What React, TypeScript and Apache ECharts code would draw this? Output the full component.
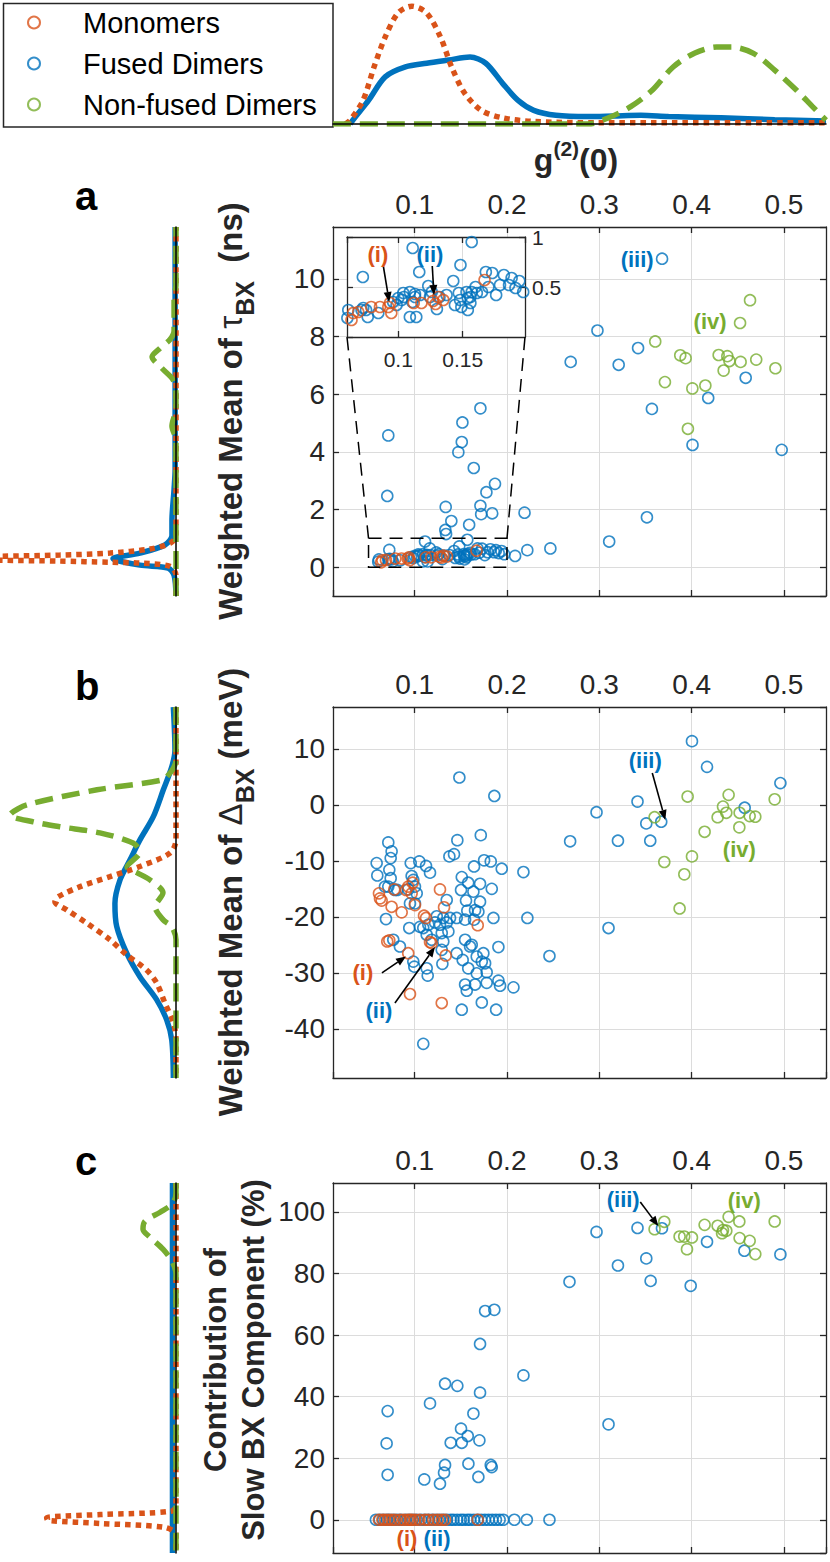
import React, { useEffect, useRef } from 'react';
import * as echarts from 'echarts';

const ORANGE = '#D95319';
const BLUE = '#0072BD';
const GREEN = '#77AC30';
const INK = '#262626';
const GRIDLINE = '#dcdcdc';
const FONT = '"Liberation Sans", Arial, Helvetica, sans-serif';

const seriesNames = ['Monomers', 'Fused Dimers', 'Non-fused Dimers'];

// axis extents
const gExtent = [0.0115, 0.5456];
const tauExtent = [-1, 11.8];
const deltaExtent = [-48.8, 17.5];
const slowExtent = [-10.8, 109.4];
const insetGExtent = [0.0602, 0.1984];
const insetTauExtent = [0, 1];
const densityExtent = [0, 100];
const zoomBoxG = [0.05, 0.2];
const zoomBoxTau = [0, 1];

// ---------- panel a : weighted mean of tau_BX (ns) ----------
const fusedTau = [
  [0.0714, 4.57], [0.0703, 2.47], [0.0725, 0.6], [0.1517, 5.02], [0.1712, 5.51], [0.151, 4.34], [0.1473, 3.99],
  [0.164, 3.44], [0.187, 2.89], [0.1777, 2.6], [0.1712, 2.13], [0.172, 1.84], [0.184, 1.87], [0.1336, 2.09],
  [0.1397, 1.6], [0.159, 1.47], [0.1332, 1.29], [0.134, 1.15], [0.219, 1.89], [0.1112, 0.89], [0.157, 0.95],
  [0.1163, 0.65], [0.1483, 0.72], [0.2088, 0.39], [0.222, 0.59], [0.247, 0.65],
  [0.368, 10.7], [0.298, 8.21], [0.269, 7.12], [0.321, 7.02], [0.342, 7.6], [0.357, 5.49], [0.418, 5.87],
  [0.4586, 6.57], [0.401, 4.24], [0.4976, 4.07], [0.3516, 1.73], [0.3107, 0.89],
  [0.1427, 0.56], [0.1233, 0.51], [0.168, 0.65], [0.173, 0.64], [0.182, 0.62], [0.188, 0.59], [0.194, 0.56],
  [0.191, 0.49], [0.179, 0.52], [0.186, 0.52], [0.176, 0.42], [0.17, 0.5], [0.165, 0.45], [0.16, 0.5],
  [0.161, 0.44], [0.157, 0.45], [0.156, 0.4], [0.153, 0.45], [0.154, 0.39], [0.147, 0.44], [0.148, 0.37],
  [0.156, 0.34], [0.154, 0.27], [0.149, 0.3], [0.144, 0.32], [0.1375, 0.42], [0.132, 0.4], [0.1246, 0.4],
  [0.13, 0.28], [0.126, 0.45], [0.117, 0.42], [0.113, 0.4], [0.111, 0.35], [0.114, 0.2], [0.109, 0.2],
  [0.1044, 0.4], [0.1026, 0.37], [0.1, 0.39], [0.096, 0.35], [0.0987, 0.32], [0.0845, 0.24], [0.075, 0.27],
  [0.0763, 0.2], [0.0715, 0.27], [0.0728, 0.29], [0.0612, 0.27], [0.0605, 0.19], [0.109, 0.45], [0.113, 0.43],
  [0.1039, 0.44], [0.197, 0.45],
];
const monoTau = [
  [0.0637, 0.17], [0.065, 0.24], [0.0689, 0.25], [0.079, 0.3], [0.0858, 0.3], [0.0923, 0.3], [0.0936, 0.34],
  [0.0946, 0.24], [0.112, 0.34], [0.118, 0.34], [0.127, 0.36], [0.131, 0.4], [0.135, 0.37], [0.129, 0.33],
  [0.167, 0.57],
];
const nonTau = [
  [0.4633, 9.26], [0.4525, 8.47], [0.3606, 7.83], [0.3877, 7.35], [0.3935, 7.25], [0.4293, 7.36], [0.4387, 7.32],
  [0.441, 7.15], [0.4531, 7.12], [0.47, 7.2], [0.4908, 6.9], [0.4347, 6.82], [0.3711, 6.42], [0.4008, 6.2],
  [0.4149, 6.3], [0.396, 4.8],
];

// ---------- panel b : weighted mean of Delta_BX (meV) ----------
const fusedDelta = [
  [0.1484, 4.9], [0.1863, 1.6], [0.1716, -5.4], [0.1462, -6.3], [0.0714, -6.7], [0.075, -8.3], [0.074, -9.5],
  [0.0588, -10.4], [0.0595, -12.6], [0.0725, -11.6], [0.074, -13.1], [0.0714, -14.6], [0.0786, -15.2],
  [0.0957, -10.4], [0.105, -10.1], [0.1123, -10.9], [0.1166, -12.1], [0.0967, -12.7], [0.0985, -13.4],
  [0.1003, -14.6], [0.1022, -15.8], [0.1003, -17.6], [0.1376, -9.2], [0.1426, -8.8], [0.1643, -11.0],
  [0.1752, -9.9], [0.1824, -10.1], [0.1943, -11.4], [0.2178, -12.0], [0.2221, -20.2], [0.246, -27.0],
  [0.151, -12.9], [0.158, -13.9], [0.1708, -14.1], [0.1502, -15.2], [0.1636, -15.5], [0.1835, -15.0],
  [0.1708, -17.3], [0.1556, -17.1], [0.157, -18.9], [0.169, -19.1], [0.1853, -20.2], [0.1546, -20.5],
  [0.1455, -20.2], [0.1383, -20.2], [0.131, -20.2], [0.1239, -19.9], [0.122, -21.0], [0.1274, -21.4],
  [0.1347, -21.0], [0.1148, -21.4], [0.1093, -22.0], [0.1057, -21.8], [0.0941, -22.0], [0.0689, -20.4],
  [0.093, -15.1], [0.0949, -17.6], [0.0811, -15.2], [0.0678, -14.6], [0.0768, -24.1], [0.084, -25.3],
  [0.1293, -22.9], [0.1365, -22.6], [0.131, -24.4], [0.1293, -25.9], [0.13, -28.4], [0.113, -29.2],
  [0.1141, -30.5], [0.0996, -28.9], [0.0985, -28.0], [0.1093, -42.7], [0.151, -36.6], [0.1727, -35.3],
  [0.1882, -36.6], [0.207, -32.6], [0.1925, -32.3], [0.1907, -31.4], [0.178, -31.8], [0.1654, -32.1],
  [0.1546, -32.1], [0.1564, -33.2], [0.1672, -30.1], [0.178, -29.9], [0.158, -29.2], [0.1727, -28.0],
  [0.1763, -28.3], [0.1672, -27.1], [0.1744, -26.5], [0.16, -25.3], [0.1546, -24.1], [0.1618, -25.0],
  [0.1455, -26.5], [0.152, -27.7], [0.1907, -25.4], [0.1643, -20.5], [0.1654, -18.8], [0.1347, -17.0],
  [0.113, -23.2], [0.1184, -24.1],
  [0.4004, 11.4], [0.4167, 6.8], [0.4962, 3.9], [0.3414, 0.6], [0.4575, -0.5], [0.297, -1.3], [0.3509, -3.3],
  [0.3671, -3.0], [0.2684, -6.5], [0.3202, -6.4], [0.3552, -6.4], [0.31, -22.0],
];
const monoDelta = [
  [0.0613, -15.8], [0.0624, -16.7], [0.0642, -17.1], [0.0779, -15.1], [0.075, -18.2], [0.0859, -19.2],
  [0.0906, -15.2], [0.093, -14.6], [0.0978, -13.9], [0.0967, -15.8], [0.1003, -17.9], [0.1101, -19.8],
  [0.1123, -20.2], [0.1274, -15.1], [0.1318, -18.3], [0.1336, -26.9], [0.1166, -24.5], [0.1184, -24.7],
  [0.1293, -35.4], [0.0949, -33.8], [0.093, -26.5], [0.0703, -24.4], [0.0725, -24.2], [0.1683, -21.5],
];
const nonDelta = [
  [0.3957, 1.5], [0.4401, 1.8], [0.434, -0.3], [0.4376, -1.4], [0.4282, -2.2], [0.452, -1.4], [0.4629, -2.0],
  [0.469, -2.1], [0.49, 1.0], [0.4517, -4.0], [0.3599, -2.2], [0.4141, -4.8], [0.4004, -9.2], [0.3704, -10.2],
  [0.3921, -12.4], [0.387, -18.5],
];

// ---------- panel c : contribution of slow BX component (%) ----------
const fusedSlow = [
  [0.0707, 35.3], [0.0696, 24.8], [0.0707, 14.6], [0.1166, 37.8], [0.1329, 44.2], [0.1462, 43.5], [0.1708, 57.1],
  [0.1763, 67.8], [0.1863, 68.2], [0.2178, 46.9], [0.1708, 41.3], [0.1636, 34.5], [0.1502, 29.6], [0.1575, 27.2],
  [0.151, 25.0], [0.139, 25.0], [0.1701, 25.8], [0.1329, 17.8], [0.1318, 15.3], [0.1582, 18.2], [0.1824, 17.8],
  [0.1835, 17.1], [0.1104, 13.1], [0.1274, 11.7], [0.169, 13.9], [0.2677, 77.3],
  [0.297, 93.5], [0.3414, 94.8], [0.3679, 94.7], [0.3509, 84.9], [0.3202, 82.6], [0.4167, 90.3], [0.4572, 87.4],
  [0.4962, 86.2], [0.3556, 77.6], [0.399, 76.0], [0.31, 31.0],
  [0.058, 0], [0.062, 0], [0.066, 0], [0.07, 0], [0.073, 0], [0.077, 0], [0.081, 0], [0.085, 0], [0.09, 0],
  [0.094, 0], [0.098, 0], [0.102, 0], [0.107, 0], [0.111, 0], [0.115, 0], [0.119, 0], [0.123, 0], [0.127, 0],
  [0.131, 0], [0.135, 0], [0.139, 0], [0.142, 0], [0.146, 0], [0.15, 0], [0.153, 0], [0.157, 0], [0.16, 0],
  [0.164, 0], [0.168, 0], [0.172, 0], [0.176, 0], [0.18, 0], [0.184, 0], [0.188, 0], [0.192, 0], [0.196, 0],
  [0.208, 0], [0.2215, 0], [0.246, 0],
];
const monoSlow = [
  [0.0613, 0], [0.065, 0], [0.068, 0], [0.0714, 0], [0.075, 0], [0.0786, 0], [0.084, 0], [0.088, 0], [0.092, 0],
  [0.0949, 0], [0.097, 0], [0.1003, 0], [0.105, 0], [0.1112, 0], [0.1148, 0], [0.1202, 0], [0.125, 0],
  [0.1293, 0], [0.1329, 0], [0.1683, 0],
];
const nonSlow = [
  [0.3704, 96.8], [0.3599, 94.4], [0.387, 92.0], [0.392, 92.0], [0.4004, 91.7], [0.395, 87.9], [0.4141, 95.8],
  [0.4282, 95.5], [0.4401, 98.4], [0.4517, 96.9], [0.434, 94.1], [0.4376, 93.9], [0.433, 93.1], [0.452, 91.5],
  [0.4629, 90.6], [0.469, 86.3], [0.49, 96.9],
];

// ---------- density curves ----------
// top: [g2, density]
const densTopMono = [
  [0.025, 0], [0.03, 3], [0.044, 19], [0.056, 46], [0.068, 70], [0.082, 89.5], [0.097, 95], [0.113, 89.5],
  [0.128, 70], [0.14, 46], [0.154, 25], [0.172, 11], [0.195, 5], [0.229, 2], [0.3, 1], [0.5456, 1],
];
const densTopFused = [
  [0.03, 0], [0.035, 5], [0.05, 19], [0.068, 38], [0.09, 46], [0.113, 49], [0.137, 51.6], [0.16, 54],
  [0.177, 49], [0.195, 33], [0.212, 19], [0.229, 11], [0.253, 7], [0.288, 6], [0.316, 6.5], [0.345, 7],
  [0.375, 6], [0.432, 5], [0.49, 3.5], [0.5456, 2.5],
];
const densTopNon = [
  [0.0115, 0], [0.288, 0], [0.31, 5], [0.334, 14], [0.357, 27], [0.38, 46], [0.403, 57], [0.427, 62],
  [0.444, 62], [0.467, 57], [0.49, 43.5], [0.514, 27], [0.531, 14], [0.5456, 3],
];
// side: [density, value]
const densTauMono = [
  [0, -1], [0, -0.28], [3.4, 0.03], [20.5, 0.14], [37.5, 0.17], [66, 0.21], [100, 0.24], [170, 0.31],
  [100, 0.38], [66, 0.42], [37.5, 0.49], [14.8, 0.63], [3.4, 0.83], [0, 1.1], [0, 11.8],
];
const densTauFused = [
  [0, -1], [1.1, -0.28], [4.5, -0.03], [20.5, 0.07], [35.8, 0.3], [20.5, 0.49], [6.3, 0.77], [2.3, 1.1],
  [2.3, 1.6], [1.1, 2.7], [0.5, 3.4], [0.5, 11.8],
];
const densTauNon = [
  [0, -1], [0, 4.4], [2.3, 4.9], [0, 5.5], [0, 6.0], [1.7, 6.5], [8, 6.9], [13.6, 7.3], [9, 7.6], [3.4, 7.9],
  [1.1, 8.2], [1.1, 9.3], [0, 9.8], [0, 11.8],
];
const densDeltaMono = [
  [0, 17.5], [0, -6.25], [3.4, -8.6], [20.5, -11], [37.5, -12.8], [54.5, -14.6], [66.9, -16.4], [68.8, -17.3],
  [62.1, -18.75], [50.8, -21.1], [37.5, -24.1], [28, -26.8], [16.7, -29.5], [11, -31.8], [6.3, -35.4],
  [1.5, -38.9], [0, -42], [0, -48.8],
];
const densDeltaFused = [
  [1.5, 17.5], [0.6, 9.8], [2.4, 6.8], [7.2, 2.7], [12.9, -2.1], [20.5, -6.25], [26.1, -9.8], [31.8, -13.4],
  [34.7, -17.6], [33.7, -21.7], [28, -26.5], [20.5, -30.7], [11, -34.8], [5.3, -38.4], [2.4, -42], [1.5, -48.8],
];
const densDeltaNon = [
  [0, 17.5], [0, 8.0], [1.1, 6.8], [3.4, 5.7], [7.4, 4.5], [44.9, 2.7], [84.7, 0], [94.3, -1.8], [81.3, -3.0],
  [65.9, -3.9], [43.2, -5.0], [24.4, -6.8], [20.5, -8.4], [27.8, -11.1], [22.2, -12.1], [14.8, -13.4],
  [7.4, -15.7], [11.9, -18.2], [7.4, -20.5], [2.3, -21.8], [0, -24.1], [0, -48.8],
];
const densSlowMono = [
  [0, 109.4], [0, 5], [2.3, 2.8], [43, 1.7], [73.5, 0.65], [72.7, -0.2], [43, -1.2], [6.3, -2.5], [0, -4.8],
  [0, -10.8],
];
const densSlowFused = [[2, 109.4], [2, -10.8]];
const densSlowNon = [
  [0, 109.4], [0, 105.8], [2.3, 102.5], [9, 99.9], [17.6, 97], [18.75, 94.4], [14.8, 91.8], [7.4, 87.9],
  [2.3, 84], [0, 79.8], [0, -10.8],
];

// ---------- annotations (data coordinates of the axes pair they belong to) ----------
const annotations = [
  { text: '(i)', color: ORANGE, axis: 3, at: [0.0842, 0.83], arrow: [[0.0884, 0.71], [0.093, 0.35]] },
  { text: '(ii)', color: BLUE, axis: 3, at: [0.1246, 0.83], arrow: [[0.1264, 0.71], [0.1277, 0.42]] },
  { text: '(iii)', color: BLUE, axis: 1, at: [0.341, 10.68] },
  { text: '(iv)', color: GREEN, axis: 1, at: [0.42, 8.52] },
  { text: '(i)', color: ORANGE, axis: 6, at: [0.0439, -30.0], arrow: [[0.0645, -30.0], [0.0906, -27.1]] },
  { text: '(ii)', color: BLUE, axis: 6, at: [0.0613, -36.8], arrow: [[0.0786, -35.4], [0.122, -25.4]] },
  { text: '(iii)', color: BLUE, axis: 6, at: [0.3498, 8.0], arrow: [[0.3574, 5.7], [0.3715, -2.7]] },
  { text: '(iv)', color: GREEN, axis: 6, at: [0.4517, -8.0] },
  { text: '(i)', color: ORANGE, axis: 9, at: [0.0916, -6.2] },
  { text: '(ii)', color: BLUE, axis: 9, at: [0.1242, -6.2] },
  { text: '(iii)', color: BLUE, axis: 9, at: [0.3259, 104.2], arrow: [[0.3444, 103.2], [0.364, 95.4]] },
  { text: '(iv)', color: GREEN, axis: 9, at: [0.457, 103.6] },
];

// ---------- layout ----------
const grids = [
  { left: 333, top: 0, width: 493, height: 124 }, // 0 top density
  { left: 333, top: 227, width: 493, height: 369 }, // 1 panel a
  { left: 347, top: 237, width: 178, height: 100 }, // 2 inset
  { left: 0, top: 227, width: 176, height: 369 }, // 3 a side density
  { left: 333, top: 707, width: 493, height: 371 }, // 4 panel b
  { left: 0, top: 707, width: 176, height: 371 }, // 5 b side density
  { left: 333, top: 1183, width: 493, height: 370 }, // 6 panel c
  { left: 0, top: 1183, width: 176, height: 370 }, // 7 c side density
];

function frameAxis(gridIndex: number, position: string, ext: number[], splitNumber: number, labels: boolean,
  opts: { fontSize?: number; margin?: number; z?: number; showMax?: boolean } = {}) {
  return {
    type: 'value', gridIndex, position, min: ext[0], max: ext[1], splitNumber, z: opts.z ?? 0,
    axisLine: { show: true, onZero: false, lineStyle: { color: INK, width: 1.3 } },
    axisTick: { show: true, inside: true, length: 6, lineStyle: { color: INK, width: 1.3 } },
    axisLabel: {
      show: labels, showMinLabel: false, showMaxLabel: opts.showMax ?? false, margin: opts.margin ?? 8,
      fontSize: opts.fontSize ?? 28, color: INK, fontFamily: FONT,
    },
    splitLine: { show: labels, showMinLine: false, showMaxLine: false, lineStyle: { color: GRIDLINE, width: 1 } },
  };
}
function hiddenAxis(gridIndex: number, ext: number[], inverse = false) {
  return { type: 'value', gridIndex, min: ext[0], max: ext[1], inverse, show: false };
}
function baselineAxis(gridIndex: number, ext: number[], position: string) {
  return {
    type: 'value', gridIndex, min: ext[0], max: ext[1], position, z: 10,
    axisLine: { show: true, onZero: false, lineStyle: { color: '#000', width: 1.5 } },
    axisTick: { show: false }, axisLabel: { show: false }, splitLine: { show: false },
  };
}
function scatter(name: string, data: number[][], color: string, axis: number, z = 2) {
  return {
    type: 'scatter', name, data, xAxisIndex: axis, yAxisIndex: axis, symbol: 'circle', symbolSize: 11, z,
    clip: true, silent: true, emphasis: { disabled: true },
    itemStyle: { color: 'rgba(255,255,255,0)', borderColor: color, borderWidth: 1.6 },
  };
}
function density(name: string, data: number[][], color: string, type: any, axis: number) {
  return {
    type: 'line', name, data, xAxisIndex: axis, yAxisIndex: axis, showSymbol: false, symbol: 'none',
    smooth: 0.3, z: 3, silent: true, emphasis: { disabled: true },
    lineStyle: { color, width: 5.5, type, cap: 'butt' },
  };
}
const DOT = [5.5, 5];
const DASH = [18, 9];

function buildOption() {
  const [mono, fused, non] = seriesNames;
  return {
    animation: false,
    textStyle: { fontFamily: FONT },
    grid: grids.map((g, i) => ({
      ...g, containLabel: false, outerBoundsMode: 'none',
      ...(i === 2 ? { show: true, backgroundColor: '#fff', borderWidth: 0, z: 3 } : {}),
    })),
    legend: {
      data: seriesNames, orient: 'vertical', left: 27, top: 8, itemWidth: 12, itemHeight: 12, itemGap: 12,
      selectedMode: false, padding: 0,
      textStyle: { fontSize: 29, lineHeight: 29, color: '#000', fontFamily: FONT, padding: [0, 0, 0, 38] },
    },
    xAxis: [
      baselineAxis(0, gExtent, 'bottom'),
      frameAxis(1, 'top', gExtent, 5, true, { margin: 9 }),
      frameAxis(1, 'bottom', gExtent, 5, false),
      frameAxis(2, 'bottom', insetGExtent, 3, true, { fontSize: 21, margin: 12, z: 4 }),
      frameAxis(2, 'top', insetGExtent, 3, false, { z: 4 }),
      hiddenAxis(3, densityExtent, true),
      frameAxis(4, 'top', gExtent, 5, true, { margin: 9 }),
      frameAxis(4, 'bottom', gExtent, 5, false),
      hiddenAxis(5, densityExtent, true),
      frameAxis(6, 'top', gExtent, 5, true, { margin: 9 }),
      frameAxis(6, 'bottom', gExtent, 5, false),
      hiddenAxis(7, densityExtent, true),
    ],
    yAxis: [
      hiddenAxis(0, densityExtent),
      frameAxis(1, 'left', tauExtent, 6, true),
      frameAxis(1, 'right', tauExtent, 6, false),
      frameAxis(2, 'right', insetTauExtent, 2, true, { fontSize: 21, margin: 7, z: 4, showMax: true }),
      frameAxis(2, 'left', insetTauExtent, 2, false, { z: 4 }),
      baselineAxis(3, tauExtent, 'right'),
      frameAxis(4, 'left', deltaExtent, 6, true),
      frameAxis(4, 'right', deltaExtent, 6, false),
      baselineAxis(5, deltaExtent, 'right'),
      frameAxis(6, 'left', slowExtent, 6, true),
      frameAxis(6, 'right', slowExtent, 6, false),
      baselineAxis(7, slowExtent, 'right'),
    ],
    series: [
      scatter(fused, fusedTau, BLUE, 1), scatter(non, nonTau, GREEN, 1), scatter(mono, monoTau, ORANGE, 1),
      scatter(fused, fusedTau, BLUE, 3, 5), scatter(mono, monoTau, ORANGE, 3, 5),
      scatter(fused, fusedDelta, BLUE, 6), scatter(non, nonDelta, GREEN, 6), scatter(mono, monoDelta, ORANGE, 6),
      scatter(fused, fusedSlow, BLUE, 9), scatter(non, nonSlow, GREEN, 9), scatter(mono, monoSlow, ORANGE, 9),
      density('Fused density g2', densTopFused, BLUE, 'solid', 0),
      density('Monomer density g2', densTopMono, ORANGE, DOT, 0),
      density('Non-fused density g2', densTopNon, GREEN, DASH, 0),
      density('Fused density tau', densTauFused, BLUE, 'solid', 5),
      density('Monomer density tau', densTauMono, ORANGE, DOT, 5),
      density('Non-fused density tau', densTauNon, GREEN, DASH, 5),
      density('Fused density delta', densDeltaFused, BLUE, 'solid', 8),
      density('Monomer density delta', densDeltaMono, ORANGE, DOT, 8),
      density('Non-fused density delta', densDeltaNon, GREEN, DASH, 8),
      density('Fused density slow', densSlowFused, BLUE, 'solid', 11),
      density('Monomer density slow', densSlowMono, ORANGE, DOT, 11),
      density('Non-fused density slow', densSlowNon, GREEN, DASH, 11),
    ],
  };
}

const labelRich = {
  m: { fontSize: 33, fontWeight: 'bold', fontFamily: FONT, fill: INK, lineHeight: 54 },
  g: { fontSize: 33, fontWeight: 'normal', fontFamily: FONT, fill: INK, lineHeight: 54 },
  s: { fontSize: 25, fontWeight: 'bold', fontFamily: FONT, fill: INK, lineHeight: 25, verticalAlign: 'bottom' },
};

function arrowEls(p0: number[], p1: number[]) {
  const dx = p1[0] - p0[0];
  const dy = p1[1] - p0[1];
  const len = Math.hypot(dx, dy) || 1;
  const ux = dx / len;
  const uy = dy / len;
  const L = 10;
  const W = 4;
  const bx = p1[0] - ux * L;
  const by = p1[1] - uy * L;
  return [
    { type: 'line', z: 20, silent: true, shape: { x1: p0[0], y1: p0[1], x2: bx, y2: by }, style: { stroke: '#000', lineWidth: 1.6 } },
    {
      type: 'polygon', z: 20, silent: true,
      shape: { points: [[p1[0], p1[1]], [bx - uy * W, by + ux * W], [bx + uy * W, by - ux * W]] },
      style: { fill: '#000' },
    },
  ];
}

function buildGraphics(chart: any) {
  const P = (axis: number, pt: number[]) => chart.convertToPixel({ xAxisIndex: axis, yAxisIndex: axis }, pt) as number[];
  const els: any[] = [];
  // legend frame
  els.push({ type: 'rect', z: 1, silent: true, shape: { x: 3.5, y: 3.5, width: 329.5, height: 123.5 }, style: { fill: '#fff', stroke: INK, lineWidth: 1.5 } });
  // panel letters
  [['a', 196], ['b', 686], ['c', 1161]].forEach(([t, y]) => {
    els.push({ type: 'text', z: 20, x: 75, y, silent: true, style: { text: t, fill: '#000', fontSize: 40, fontWeight: 'bold', fontFamily: FONT, align: 'left', verticalAlign: 'middle' } });
  });
  // g2 label
  els.push({
    type: 'text', z: 20, x: 576, y: 160, silent: true,
    style: {
      text: '{m|g}{s|(2)}{m|(0)}', align: 'center', verticalAlign: 'middle',
      rich: {
        m: { fontSize: 32, fontWeight: 'bold', fontFamily: FONT, fill: INK, lineHeight: 44 },
        s: { fontSize: 21, fontWeight: 'bold', fontFamily: FONT, fill: INK, lineHeight: 21, verticalAlign: 'top' },
      },
    },
  });
  // y labels
  els.push({ type: 'text', z: 20, x: 230, y: 411, rotation: Math.PI / 2, silent: true, style: { text: '{m|Weighted Mean of }{g|τ}{s|BX}{m|  (ns)}', align: 'center', verticalAlign: 'middle', rich: labelRich } });
  els.push({ type: 'text', z: 20, x: 230, y: 892, rotation: Math.PI / 2, silent: true, style: { text: '{m|Weighted Mean of }{g|Δ}{s|BX}{m| (meV)}', align: 'center', verticalAlign: 'middle', rich: labelRich } });
  els.push({ type: 'text', z: 20, x: 234, y: 1360, rotation: Math.PI / 2, silent: true, style: { text: 'Contribution of\nSlow BX Component (%)', fill: INK, fontSize: 31, fontWeight: 'bold', fontFamily: FONT, lineHeight: 38, align: 'center', verticalAlign: 'middle' } });
  // zoom box and connectors
  const b0 = P(1, [zoomBoxG[0], zoomBoxTau[0]]);
  const b1 = P(1, [zoomBoxG[1], zoomBoxTau[1]]);
  const dash = { stroke: '#000', lineWidth: 1.5, lineDash: [13, 8], fill: 'none' };
  els.push({ type: 'rect', z: 6, silent: true, shape: { x: b0[0], y: b1[1], width: b1[0] - b0[0], height: b0[1] - b1[1] }, style: { ...dash } });
  const i0 = P(3, [insetGExtent[0], insetTauExtent[0]]);
  const i1 = P(3, [insetGExtent[1], insetTauExtent[0]]);
  els.push({ type: 'line', z: 6, silent: true, shape: { x1: b0[0], y1: b1[1], x2: i0[0], y2: i0[1] }, style: { ...dash } });
  els.push({ type: 'line', z: 6, silent: true, shape: { x1: b1[0], y1: b1[1], x2: i1[0], y2: i1[1] }, style: { ...dash } });
  // annotations
  annotations.forEach((a) => {
    const p = P(a.axis, a.at);
    els.push({ type: 'text', z: 21, x: p[0], y: p[1], silent: true, style: { text: a.text, fill: a.color, fontSize: 22, fontWeight: 'bold', fontFamily: FONT, align: 'center', verticalAlign: 'middle' } });
    if (a.arrow) els.push(...arrowEls(P(a.axis, a.arrow[0]), P(a.axis, a.arrow[1])));
  });
  return els;
}

export default function App() {
  const ref = useRef<HTMLDivElement>(null);
  useEffect(() => {
    document.body.style.margin = '0';
    const el = ref.current;
    if (!el) return;
    const chart = echarts.init(el, null, { renderer: 'svg', width: 830, height: 1562 });
    chart.setOption(buildOption() as any);
    chart.setOption({ graphic: buildGraphics(chart) } as any);
    return () => chart.dispose();
  }, []);
  return <div ref={ref} style={{ width: 830, height: 1562 }} />;
}
